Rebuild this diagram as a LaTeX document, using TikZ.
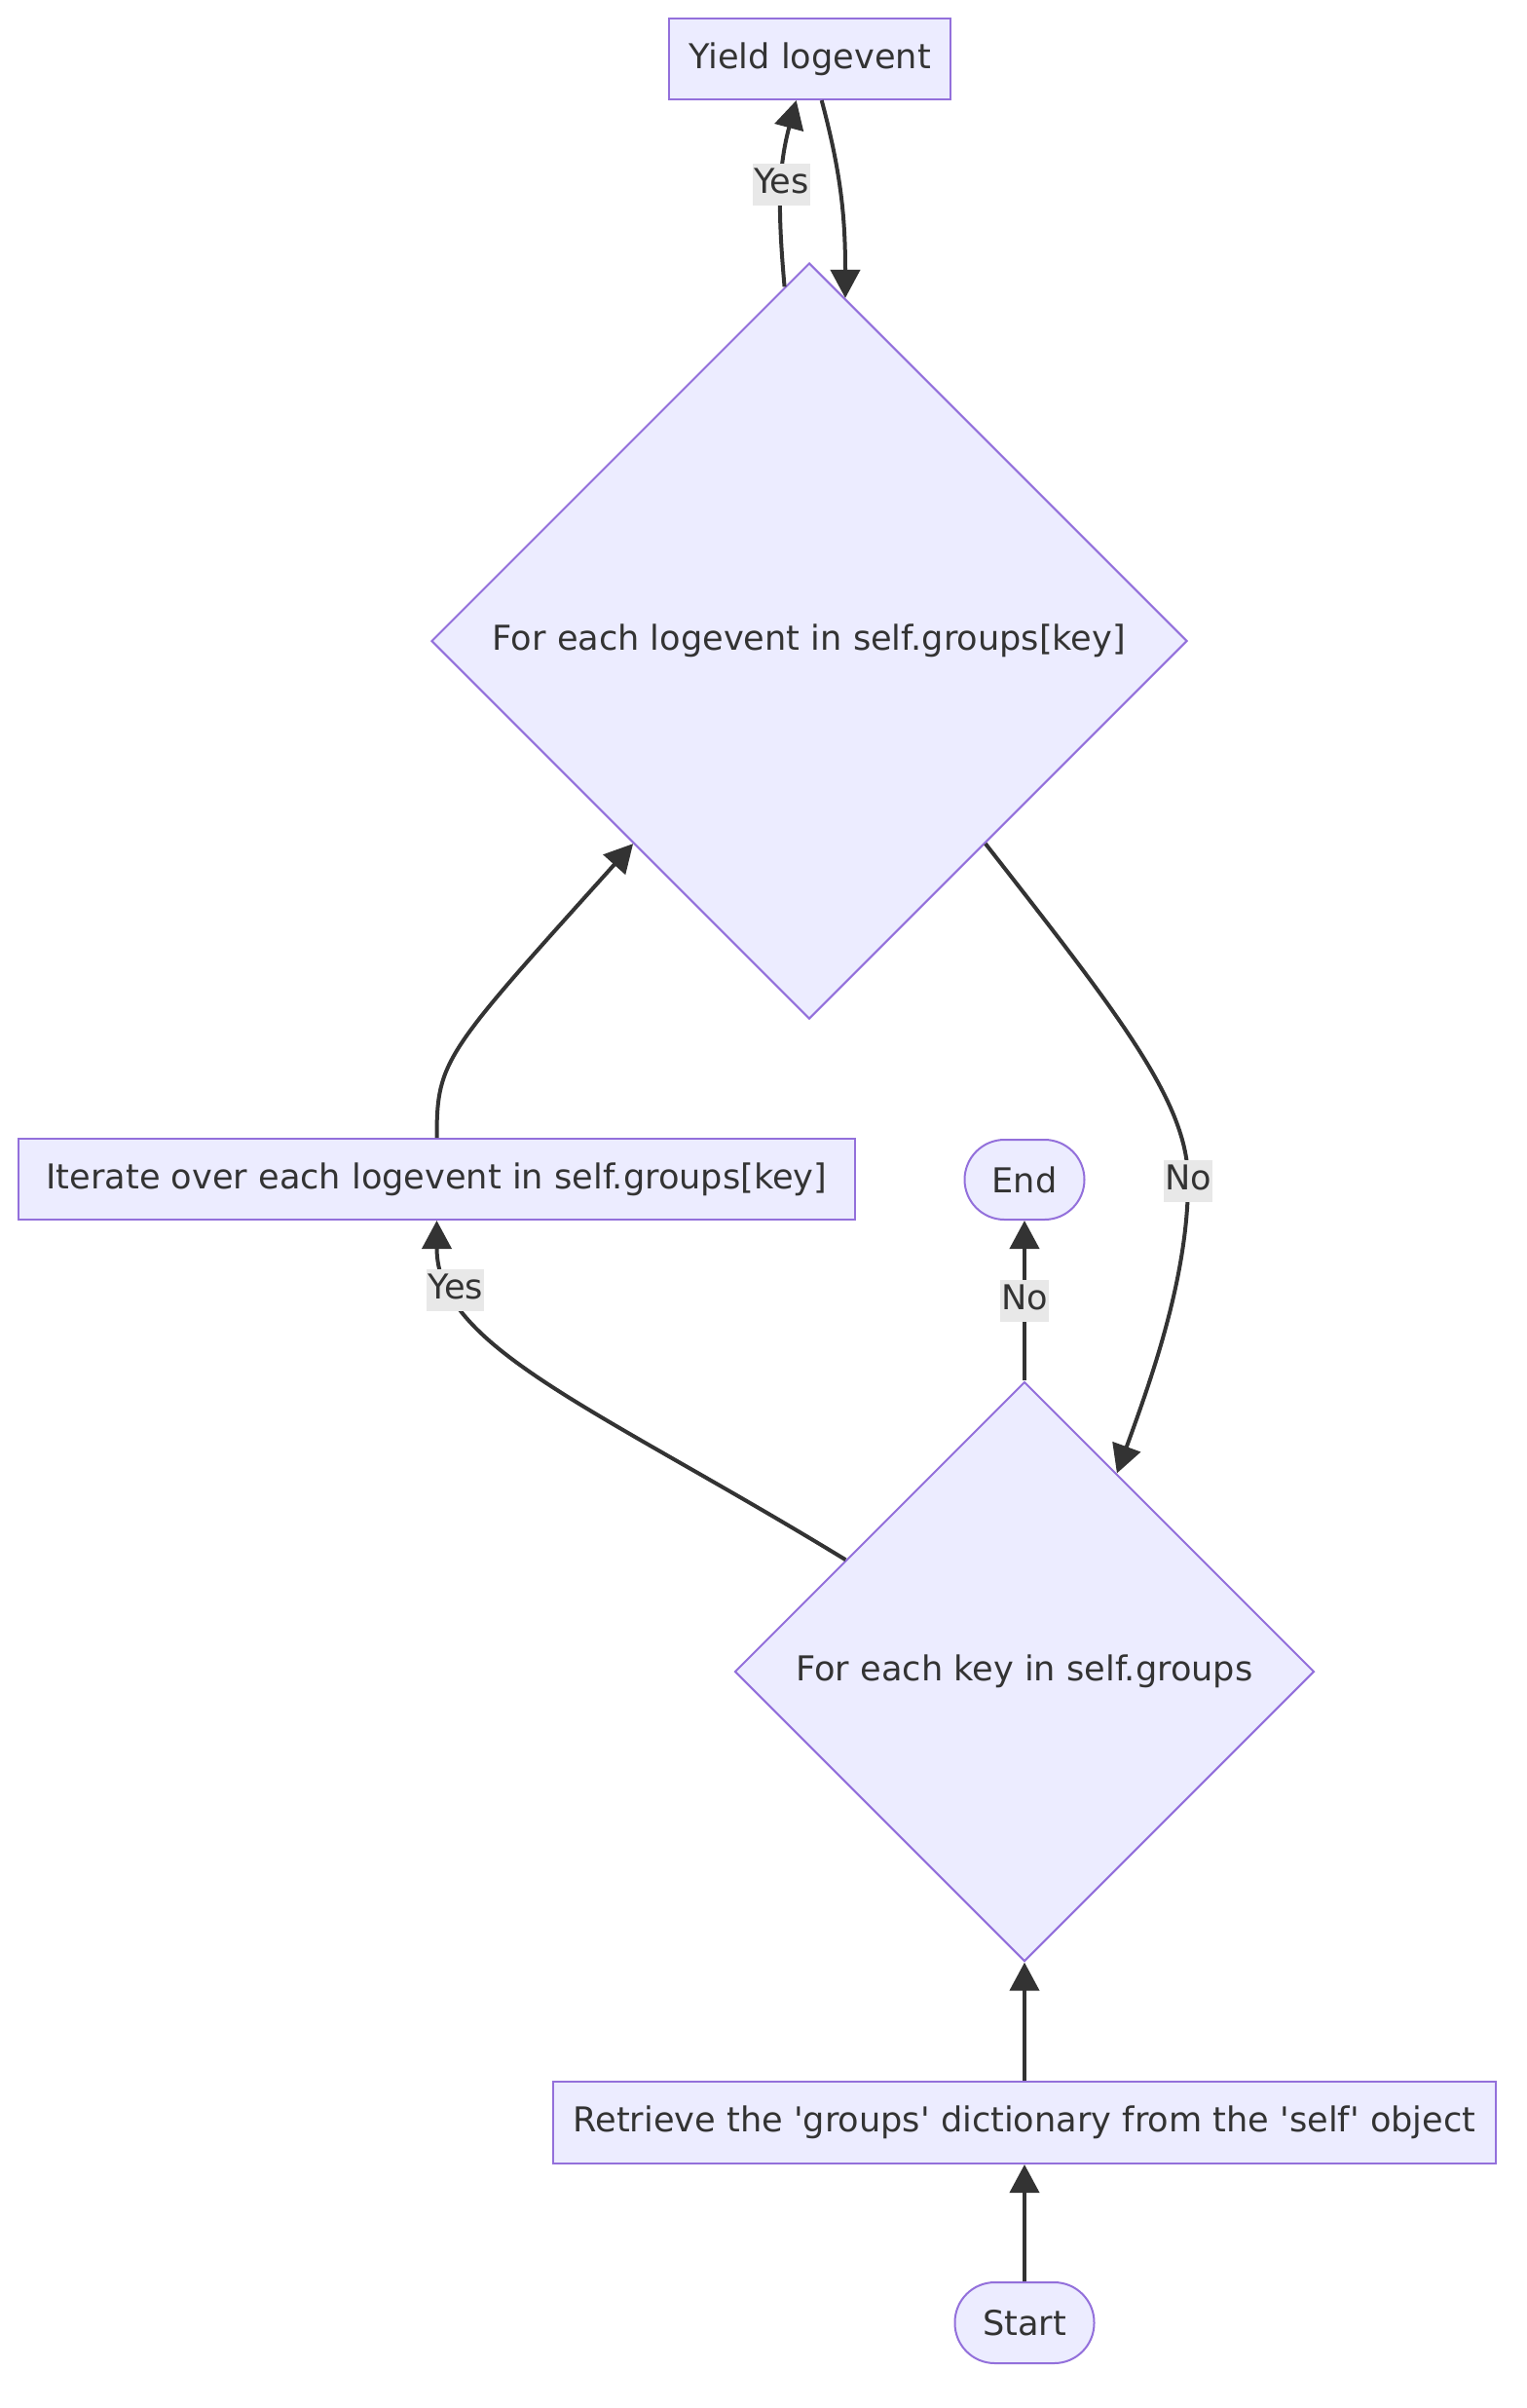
\documentclass[tikz,border=0pt]{standalone}
\usepackage{fontspec}
\setmainfont{DejaVu Sans}
\usetikzlibrary{shapes.geometric,arrows.meta}
\definecolor{nodefill}{HTML}{ECECFF}
\definecolor{nodeline}{HTML}{9370DB}
\definecolor{inkgray}{HTML}{333333}
\definecolor{labelbg}{HTML}{E8E8E8}
\tikzset{>={Triangle[length=0.58cm,width=0.6cm]}}
\tikzset{
  every node/.style={font=\fontsize{20}{24}\selectfont,text=inkgray},
  procbox/.style={draw=nodeline,fill=nodefill,line width=0.04cm,minimum height=1.66cm,inner sep=0},
  termbox/.style={procbox,rounded corners=0.82cm},
  decision/.style={draw=nodeline,fill=nodefill,line width=0.04cm,diamond,aspect=1,inner sep=0},
  flow/.style={->,draw=inkgray,line width=0.08cm},
  edgelabel/.style={fill=labelbg,inner xsep=0.02cm,inner ysep=0.1cm,text height=0.52cm,text depth=0.14cm}
}

\begin{document}
\begin{tikzpicture}
    \useasboundingbox (0,0) rectangle (31.36,-49.44);
    \node[procbox,minimum width=5.78cm] (yield) at (16.63,-1.21) {Yield logevent};
    \node[decision,minimum width=15.52cm,minimum height=15.52cm] (eventloop) at (16.62,-13.16) {For each logevent in self.groups[key]};
    \node[procbox,minimum width=17.18cm] (iterate) at (8.97,-24.21) {Iterate over each logevent in self.groups[key]};
    \node[termbox,minimum width=2.46cm,minimum height=1.64cm] (finish) at (21.04,-24.22) {End};
    \node[decision,minimum width=11.9cm,minimum height=11.9cm] (keyloop) at (21.04,-34.32) {For each key in self.groups};
    \node[procbox,minimum width=19.36cm,minimum height=1.68cm] (retrieve) at (21.04,-43.58) {Retrieve the \textquotesingle groups\textquotesingle\ dictionary from the \textquotesingle self\textquotesingle\ object};
    \node[termbox,minimum width=2.86cm] (start) at (21.04,-47.69) {Start};
    \coordinate (nobend) at (24.40,-24.24);
    % connectors
    \draw[flow] (start) -- (retrieve);
    \draw[flow] (retrieve) -- (keyloop);
    \draw[flow] (keyloop.148.6) .. controls +(148.6:6cm) and +(0,-2.6cm) .. node[edgelabel,pos=0.8] {Yes} (iterate.south);
    \draw[flow] (keyloop) -- node[edgelabel] {No} (finish);
    \draw[flow] (iterate.north) .. controls +(0,1.6cm) and +(228:5.8cm) .. (eventloop.229.6);
    \draw[flow] (eventloop.-49.1) .. controls +(-52:4.5cm) and +(0,1.6cm) .. (nobend) node[edgelabel] {No}
        .. controls +(0,-2cm) and +(70:2cm) .. (keyloop.65.9);
    \draw[flow] (eventloop.94.4) to[out=95,in=-105] node[edgelabel,pos=0.55] {Yes} (yield.252);
    \draw[flow] (yield.-74.5) to[out=-75,in=90] (eventloop.84.9);
\end{tikzpicture}
\end{document}
